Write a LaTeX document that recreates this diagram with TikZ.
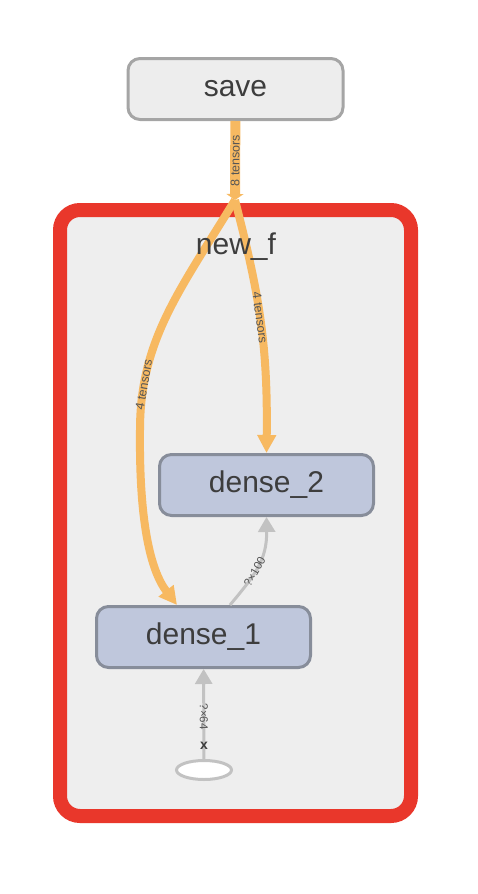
\documentclass[tikz,border=0pt]{standalone}
\usepackage{fontspec}
\setmainfont{Liberation Sans}
\usetikzlibrary{positioning, arrows.meta, shapes.geometric}

\definecolor{framered}{HTML}{E9372B}
\definecolor{framefill}{HTML}{EEEEEE}
\definecolor{opfill}{HTML}{EDEDED}
\definecolor{opline}{HTML}{A5A5A5}
\definecolor{densefill}{HTML}{BFC7DC}
\definecolor{denseline}{HTML}{878D9A}
\definecolor{tensoredge}{HTML}{F7B961}
\definecolor{shapeedge}{HTML}{C2C2C2}
\definecolor{textgray}{HTML}{3D3D3D}
\definecolor{smallgray}{HTML}{555555}

\begin{document}
\begin{tikzpicture}[x=1pt,y=-1pt]
            \tikzset{opbox/.style={draw=opline,fill=opfill,line width=3pt,rounded corners=12pt,minimum width=215pt,minimum height=61pt,text=textgray,font=\fontsize{30}{31}\selectfont}}
            \tikzset{densebox/.style={draw=denseline,fill=densefill,line width=3pt,rounded corners=12pt,minimum width=214pt,minimum height=61pt,text=textgray,font=\fontsize{30}{31}\selectfont}}
            \tikzset{groupbox/.style={draw=framered,fill=framefill,line width=14pt,rounded corners=20pt,minimum width=351pt,minimum height=606pt}}
            \tikzset{inputnode/.style={ellipse,draw=shapeedge,fill=white,line width=3pt,minimum width=55pt,minimum height=19pt,inner sep=0pt}}
            \tikzset{tensors/.style={draw=tensoredge,line width=8pt,-{Triangle[length=18pt,width=18pt]}}}
            \tikzset{shapes/.style={draw=shapeedge,line width=3pt,-{Triangle[length=15pt,width=17pt]}}}
            \tikzset{lbl/.style={text=smallgray,font=\fontsize{12.5}{12.5}\selectfont,inner sep=0pt}}

            \useasboundingbox (0,0) rectangle (478,894);

            \node[groupbox] (new_f) at (235.5,513) {};

            \node[opbox] (save) at (235.5,89) {save};
            \node[densebox] (dense_2) at (266.5,485) {dense\_2};
            \node[densebox] (dense_1) at (203.5,637) {dense\_1};
            \node[inputnode] (x) at (204,770) {};

            \coordinate (hub) at (235,200);

            \draw[tensors,line width=10pt,-{Triangle[length=6pt,width=17pt]}] (save) -- node[lbl,sloped] {8 tensors} (hub);

            \draw[tensors] (hub) .. controls (258,290) and (268,340) .. (dense_2.north)
                node[lbl,sloped,pos=0.5] {4 tensors};
            \draw[tensors] (hub) .. controls (180,290) and (140,340) .. (140,430)
                node[lbl,sloped,pos=0.82] {4 tensors}
                .. controls (139,520) and (150,570) .. ([xshift=-26.5pt]dense_1.north);

            \draw[shapes] ([xshift=26.5pt]dense_1.north) .. controls (255,575) and (267,560) .. (dense_2.south)
                node[lbl,sloped,pos=0.42,font=\fontsize{11.5}{11.5}\selectfont] {?×100};
            \draw[shapes] (x) -- node[lbl,sloped,pos=0.47,font=\fontsize{11.5}{11.5}\selectfont] {?×64} (dense_1);

            \node[text=textgray,font=\fontsize{14}{14}\bfseries\selectfont,inner sep=0pt] (xlabel) at (204,746) {x};
            \node[text=textgray,font=\fontsize{30}{31}\selectfont] (newflabel) at (236,247) {new\_f};

        \end{tikzpicture}
\end{document}
